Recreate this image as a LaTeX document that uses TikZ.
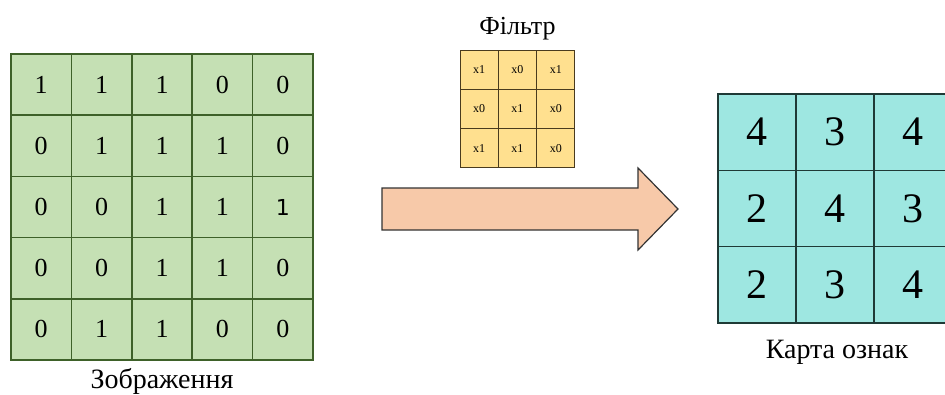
\documentclass[tikz,border=0pt]{standalone}
\usepackage{fontspec}
\setmainfont{Liberation Serif}
\newfontfamily\digitfont{DejaVu Sans}
\usetikzlibrary{positioning}

\definecolor{imggreen}{HTML}{C5E0B4}
\definecolor{imgline}{HTML}{3E6129}
\definecolor{filtyellow}{HTML}{FFE08F}
\definecolor{filtline}{HTML}{4A3B1E}
\definecolor{mapcyan}{HTML}{9EE7E1}
\definecolor{mapline}{HTML}{1F3A36}
\definecolor{arrowfill}{HTML}{F7C9A9}

% a digit typed in another face
\newcommand\otherone{{\digitfont\fontsize{22}{22}\selectfont 1}}

\tikzset{
  imgcell/.style={draw=imgline, fill=imggreen, line width=1.5pt, inner sep=0pt, outer sep=0pt,
    minimum width=60.4pt, minimum height=61.2pt, font=\fontsize{26}{26}\selectfont},
  filtcell/.style={draw=filtline, fill=filtyellow, line width=1pt, inner sep=0pt, outer sep=0pt,
    minimum width=38.3pt, minimum height=39.3pt, font=\fontsize{12}{12}\selectfont},
  mapcell/.style={draw=mapline, fill=mapcyan, line width=1.6pt, inner sep=0pt, outer sep=0pt,
    minimum width=78pt, minimum height=76.3pt, font=\fontsize{42}{42}\selectfont},
  caption/.style={inner sep=0pt, font=\fontsize{28}{28}\selectfont}
}

\begin{document}
\begin{tikzpicture}[x=1pt, y=-1pt]
\useasboundingbox (0,0) rectangle (945,394);

% input image, 5x5
\foreach \r/\row in {1/{1,1,1,0,0}, 2/{0,1,1,1,0}, 3/{0,0,1,1,\otherone}, 4/{0,0,1,1,0}, 5/{0,1,1,0,0}} {
  \foreach \v [count=\c] in \row {
    \node[imgcell] (img-\r-\c) at ({11+60.4*(\c-0.5)}, {54+61.2*(\r-0.5)}) {\v};
  }
}
\node[caption, below=8pt of img-5-3] (imglabel) {Зображення};

% filter, 3x3
\foreach \r/\row in {1/{x1,x0,x1}, 2/{x0,x1,x0}, 3/{x1,x1,x0}} {
  \foreach \v [count=\c] in \row {
    \node[filtcell] (filt-\r-\c) at ({460+38.3*(\c-0.5)}, {50+39.3*(\r-0.5)}) {\v};
  }
}
\node[caption, font=\fontsize{26}{26}\selectfont, above=10pt of filt-1-2] (filtlabel) {Фільтр};

% big arrow
\draw[fill=arrowfill, draw=black!80, line width=1.2pt, line join=miter]
  (382,188) -- (638,188) -- (638,168) -- (678,209) -- (638,250) -- (638,230) -- (382,230) -- cycle;

% feature map, 3x3
\foreach \r/\row in {1/{4,3,4}, 2/{2,4,3}, 3/{2,3,4}} {
  \foreach \v [count=\c] in \row {
    \node[mapcell] (map-\r-\c) at ({718+78*(\c-0.5)}, {94+76.3*(\r-0.5)}) {\v};
  }
}
\node[caption] (maplabel) at (837,352) {Карта ознак};

\end{tikzpicture}
\end{document}
